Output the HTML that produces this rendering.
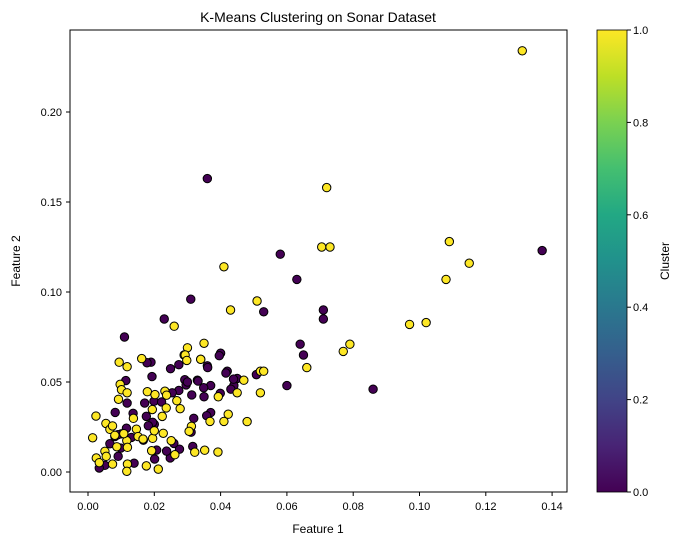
<!DOCTYPE html>
<html><head><meta charset="utf-8"><style>
body{margin:0;background:#fff}
svg{display:block;font-family:"Liberation Sans","DejaVu Sans",sans-serif}
</style></head><body>
<svg id="chart" width="681" height="545">
<defs><linearGradient id="vir" x1="0" y1="1" x2="0" y2="0">
<stop offset="0" stop-color="#440154"/><stop offset="0.1" stop-color="#482475"/><stop offset="0.2" stop-color="#414487"/><stop offset="0.3" stop-color="#355f8d"/><stop offset="0.4" stop-color="#2a788e"/><stop offset="0.5" stop-color="#21918c"/><stop offset="0.6" stop-color="#22a884"/><stop offset="0.7" stop-color="#44bf70"/><stop offset="0.8" stop-color="#7ad151"/><stop offset="0.9" stop-color="#bddf26"/><stop offset="1" stop-color="#fde725"/></linearGradient></defs>
<text x="318" y="22" text-anchor="middle" font-size="14">K-Means Clustering on Sonar Dataset</text>
<text x="318" y="533" text-anchor="middle" font-size="12">Feature 1</text>
<text transform="translate(20,261) rotate(-90)" text-anchor="middle" font-size="12">Feature 2</text>
<g id="ticks"></g>
<g id="points"></g>
<rect x="70" y="30" width="497" height="462" fill="none" stroke="#000" stroke-width="1"/>
<rect x="597" y="30" width="30" height="462" fill="url(#vir)" stroke="#000" stroke-width="0.8"/>
<g id="cbticks"></g>
<text transform="translate(669,261) rotate(-90)" text-anchor="middle" font-size="12">Cluster</text>
</svg>
<script>
const xTicks=[0,0.02,0.04,0.06,0.08,0.10,0.12,0.14];
const yTicks=[0,0.05,0.10,0.15,0.20];
const cbTicks=[0,0.2,0.4,0.6,0.8,1.0];
const purpleX=[0.036,0.137,0.058,0.063,0.031,0.053,0.071,0.071,0.023,0.011,0.064,0.065,0.060,0.086,0.019,0.040,0.042,0.044,0.045,0.036,0.037,0.033,0.0178,0.0193,0.0114,0.0249,0.0274,0.0361,0.0396,0.0416,0.0292,0.0296,0.0332,0.0349,0.0399,0.0431,0.0439,0.0508,0.0313,0.035,0.037,0.0358,0.0319,0.0311,0.0316,0.0276,0.0248,0.0201,0.0139,0.0051,0.0034,0.0091,0.0099,0.0066,0.0081,0.0101,0.0116,0.0136,0.0118,0.0082,0.0176,0.0171,0.0199,0.0222,0.02,0.0195,0.0167,0.0207,0.0237,0.0259,0.0182,0.0131,0.009,0.0274,0.0254,0.030];
const purpleY=[0.163,0.123,0.121,0.107,0.096,0.089,0.090,0.085,0.085,0.075,0.071,0.065,0.048,0.046,0.061,0.066,0.056,0.048,0.052,0.059,0.048,0.051,0.0607,0.053,0.0508,0.0574,0.0596,0.058,0.0646,0.055,0.0513,0.0484,0.0505,0.0468,0.0437,0.046,0.0516,0.0541,0.0428,0.0418,0.033,0.0313,0.0298,0.0221,0.0142,0.0127,0.0078,0.0072,0.0049,0.0037,0.0022,0.0087,0.0133,0.0157,0.0197,0.0212,0.0243,0.0326,0.0383,0.0331,0.0309,0.0383,0.0393,0.0389,0.0265,0.0276,0.0177,0.0122,0.0116,0.0159,0.0257,0.0192,0.0207,0.0453,0.044,0.050];
const yellowX=[0.131,0.072,0.0705,0.073,0.041,0.109,0.115,0.108,0.051,0.043,0.026,0.097,0.102,0.077,0.079,0.066,0.052,0.053,0.052,0.048,0.035,0.030,0.029,0.034,0.047,0.045,0.0094,0.0118,0.0162,0.0293,0.0298,0.034,0.0097,0.0101,0.0118,0.0092,0.0179,0.0202,0.0232,0.0237,0.0268,0.0278,0.0236,0.0194,0.0137,0.0024,0.0054,0.0066,0.0014,0.0393,0.0423,0.041,0.0368,0.0312,0.0305,0.0322,0.0352,0.0392,0.0224,0.0146,0.0151,0.0195,0.0227,0.02,0.0117,0.0119,0.0051,0.0055,0.0025,0.0034,0.0074,0.0119,0.0117,0.0176,0.0212,0.0251,0.0262,0.0192,0.0087,0.0081,0.0074,0.0108,0.0166];
const yellowY=[0.234,0.158,0.125,0.125,0.114,0.128,0.116,0.107,0.095,0.090,0.081,0.082,0.083,0.067,0.071,0.058,0.056,0.056,0.044,0.028,0.0715,0.069,0.065,0.0626,0.051,0.044,0.061,0.0585,0.063,0.065,0.062,0.0626,0.0487,0.0457,0.044,0.0404,0.0446,0.043,0.0449,0.0427,0.0396,0.0352,0.0356,0.0347,0.0298,0.0311,0.027,0.0237,0.019,0.0418,0.0321,0.0281,0.0281,0.0254,0.0226,0.011,0.0121,0.0111,0.0309,0.0238,0.0197,0.0187,0.0215,0.0229,0.0174,0.0137,0.0115,0.0087,0.0078,0.0052,0.0044,0.0044,0.0004,0.0034,0.0016,0.0174,0.0096,0.0118,0.014,0.0204,0.0256,0.0213,0.0183];
const NS="http://www.w3.org/2000/svg";
function sx(v){return 88+v*3315;}
function sy(v){return 472-v*1800;}
function cy(v){return 492-v*462;}
function mk(tag,attrs,parent){const e=document.createElementNS(NS,tag);for(const k in attrs)e.setAttribute(k,attrs[k]);parent.appendChild(e);return e;}
const tg=document.getElementById('ticks');
xTicks.forEach(v=>{
 const l=mk('line',{x1:sx(v),x2:sx(v),y1:492,y2:496,stroke:'#000'},tg);
 
 
 const t=mk('text',{x:sx(v),y:510,'text-anchor':'middle','font-size':11},tg);
 t.textContent=v.toFixed(2);
 
 
});
yTicks.forEach(v=>{
 const l=mk('line',{x1:66,x2:70,y1:sy(v),y2:sy(v),stroke:'#000'},tg);
 
 
 const t=mk('text',{x:62,y:sy(v)+4,'text-anchor':'end','font-size':11},tg);
 t.textContent=v.toFixed(2);
 
 
});
const cg=document.getElementById('cbticks');
cbTicks.forEach(v=>{
 const l=mk('line',{x1:627,x2:631,y1:cy(v),y2:cy(v),stroke:'#000'},cg);
 
 
 const t=mk('text',{x:633,y:cy(v)+4,'font-size':11},cg);
 t.textContent=v.toFixed(1);
 
 
});
const pg=document.getElementById('points');
purpleX.forEach((v,i)=>{
 const c=mk('circle',{cx:sx(v),cy:sy(purpleY[i]),r:4.2,fill:'#440154',stroke:'#000','stroke-width':1},pg);
 
 
});
yellowX.forEach((v,i)=>{
 const c=mk('circle',{cx:sx(v),cy:sy(yellowY[i]),r:4.2,fill:'#fde725',stroke:'#000','stroke-width':1},pg);
 
 
});
</script>
</body></html>
